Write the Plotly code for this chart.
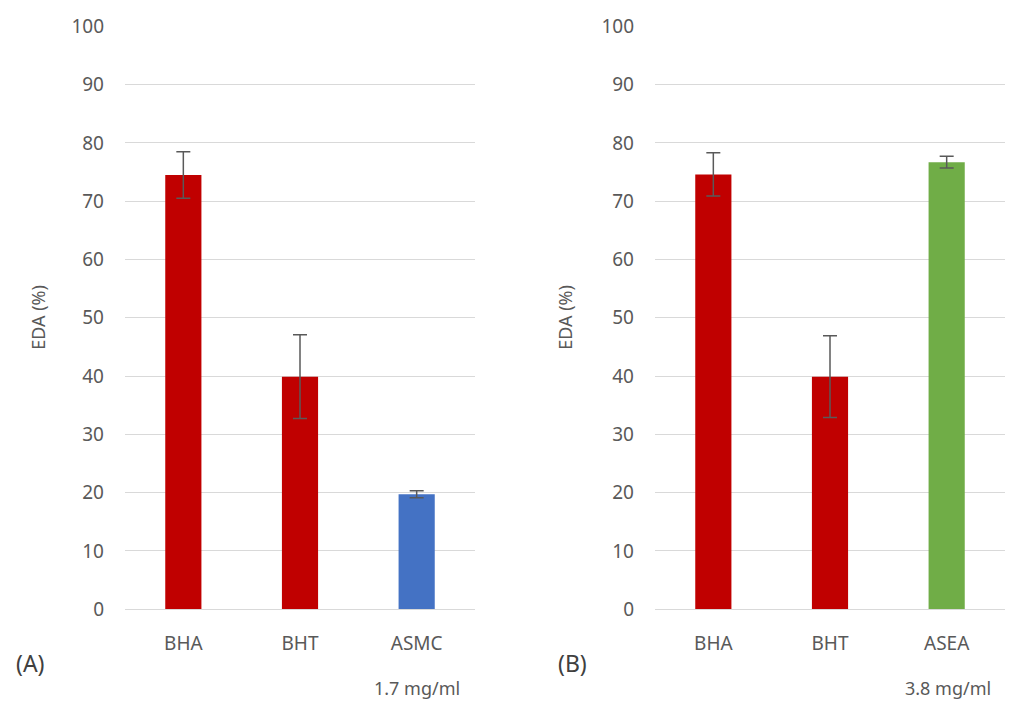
import plotly.graph_objects as go

# EDA (%) by sample, two panels
cats_a = ["BHA", "BHT", "ASMC"]
vals_a = [74.5, 39.9, 19.7]
err_a = [4.0, 7.2, 0.6]
colors_a = ["#c00000", "#c00000", "#4472c4"]

cats_b = ["BHA", "BHT", "ASEA"]
vals_b = [74.6, 39.9, 76.7]
err_b = [3.7, 7.0, 1.0]
colors_b = ["#c00000", "#c00000", "#70ad47"]

y_ticks = list(range(0, 101, 10))

FONT = "Noto Sans"
GRAY = "#595959"
GRID = "#d9d9d9"
W = 1009


def py(p):
    """Vertical pixel position (from top) to paper fraction."""
    return 1 - (p - 11.6) / 677.4


def px(p):
    return p / W


fig = go.Figure()


def add_panel(cats, vals, errs, colors, xa, ya):
    fig.add_trace(go.Bar(
        x=cats, y=vals, marker=dict(color=colors, line=dict(width=0)),
        error_y=dict(type="data", array=errs, visible=True,
                     color=GRAY, thickness=1.5, width=7),
        xaxis=xa, yaxis=ya, showlegend=False,
    ))


add_panel(cats_a, vals_a, err_a, colors_a, "x", "y")
add_panel(cats_b, vals_b, err_b, colors_b, "x2", "y2")

yaxis_common = dict(
    range=[0, 100], tickvals=y_ticks, showgrid=True, gridcolor=GRID,
    gridwidth=1, zeroline=False, showline=False,
    tickfont=dict(family=FONT, size=19, color=GRAY),
    ticks="", ticklabelstandoff=20,
    domain=[py(609), py(25)],
)
xaxis_common = dict(
    showgrid=False, zeroline=False, showline=True, linecolor=GRID, linewidth=1,
    tickfont=dict(family=FONT, size=19, color=GRAY),
    ticks="", ticklabelstandoff=17,
)

fig.update_layout(
    width=1009, height=702,
    margin=dict(l=0, r=0, t=0, b=0),
    paper_bgcolor="white", plot_bgcolor="white",
    bargap=0.69,
    xaxis=dict(**xaxis_common, domain=[px(125), px(475)], anchor="y"),
    yaxis=dict(**yaxis_common, anchor="x"),
    xaxis2=dict(**xaxis_common, domain=[px(655), px(1005)], anchor="y2"),
    yaxis2=dict(**yaxis_common, anchor="x2"),
)

ann_font = dict(family=FONT, size=18, color=GRAY)
big_font = dict(family=FONT, size=23, color="#404040")
annotations = [
    dict(text="EDA (%)", x=px(38), y=py(317), textangle=-90, font=ann_font),
    dict(text="EDA (%)", x=px(565), y=py(317), textangle=-90, font=ann_font),
    dict(text="(A)", x=px(30), y=py(663), font=big_font),
    dict(text="(B)", x=px(572), y=py(663), font=big_font),
    dict(text="1.7 mg/ml", x=px(417), y=py(688), font=ann_font),
    dict(text="3.8 mg/ml", x=px(948), y=py(688), font=ann_font),
]
for a in annotations:
    a.update(xref="paper", yref="paper", showarrow=False, xanchor="center", yanchor="middle")
fig.update_layout(annotations=annotations)

fig.write_html("out.html")
